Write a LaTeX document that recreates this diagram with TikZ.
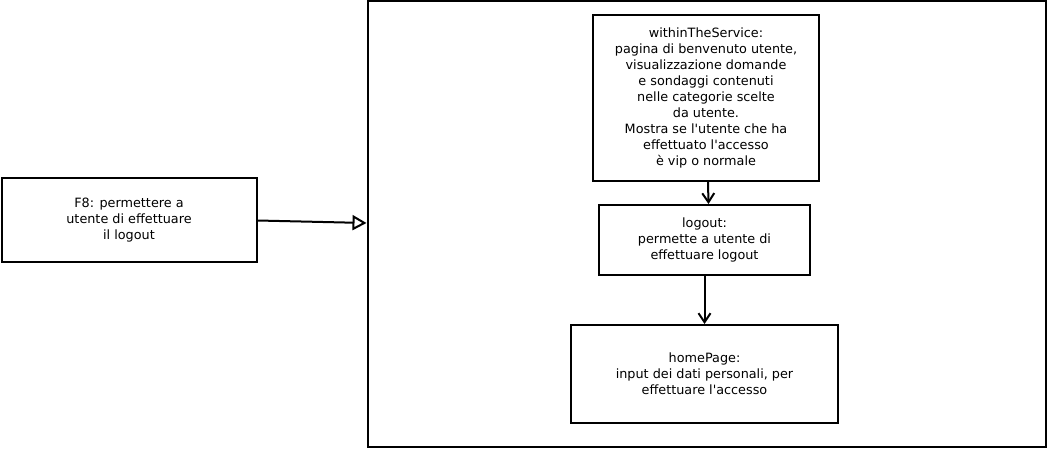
\documentclass[tikz,border=0pt]{standalone}
\usepackage{fontspec}
\setmainfont{DejaVu Sans}
\usepackage{tikz}
\usetikzlibrary{arrows.meta, positioning}

\tikzset{
  pagebox/.style={draw=black, line width=2pt, align=center, inner sep=0pt,
    font=\fontsize{12.8}{16}\selectfont},
  flow/.style={-{Straight Barb[length=9pt, width=12pt]}, line width=2pt},
}

\begin{document}
\begin{tikzpicture}[x=1pt, y=-1pt, every node/.style={align=center}]
      \useasboundingbox (0,0) rectangle (1047,449);
      % contenitore del flusso
      \node[pagebox, minimum width=678pt, minimum height=445pt] (flusso) at (706.5, 224) {};
      \node[pagebox, minimum width=255pt, minimum height=84pt] (req) at (129, 220.5)
        {F8: permettere a\\ utente di effettuare\\ il logout};
      \node[pagebox, minimum width=226pt, minimum height=166pt] (within) at (706, 98)
        {withinTheService:\\ pagina di benvenuto utente,\\ visualizzazione domande\\ e sondaggi contenuti\\ nelle categorie scelte\\ da utente.\\ Mostra se l\textquotesingle utente che ha\\ effettuato l\textquotesingle accesso\\ è vip o normale};
      \node[pagebox, minimum width=211pt, minimum height=70pt] (logout) at (704.5, 240)
        {logout:\\ permette a utente di\\ effettuare logout};
      \node[pagebox, minimum width=267pt, minimum height=98pt] (home) at (704.5, 374)
        {homePage:\\ input dei dati personali, per\\ effettuare l\textquotesingle accesso};
      \draw[line width=2pt, -{Triangle[open, length=14pt, width=15pt]}] (req.east) -- ([yshift=1pt]flusso.west);
      \draw[flow] ([xshift=2pt]within.south) -- ([xshift=4pt]logout.north);
      \draw[flow] (logout.south) -- (home.north);
\end{tikzpicture}
\end{document}
